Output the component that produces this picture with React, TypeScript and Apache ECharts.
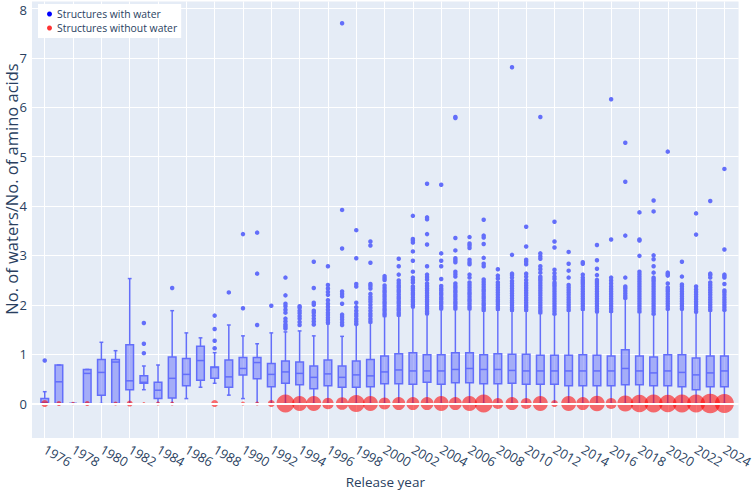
import React, { useEffect, useRef } from 'react';
import * as echarts from 'echarts';

const years = [1976, 1977, 1978, 1979, 1980, 1981, 1982, 1983, 1984, 1985, 1986, 1987, 1988, 1989, 1990, 1991, 1992, 1993, 1994, 1995, 1996, 1997, 1998, 1999, 2000, 2001, 2002, 2003, 2004, 2005, 2006, 2007, 2008, 2009, 2010, 2011, 2012, 2013, 2014, 2015, 2016, 2017, 2018, 2019, 2020, 2021, 2022, 2023, 2024];

const boxMin = [0, 0, 0, 0, 0, 0, 0, 0.28, 0, 0, 0.1, 0.33, 0.41, 0.17, 0.1, 0, 0, 0, 0, 0, 0, 0, 0, 0, 0, 0, 0, 0, 0, 0, 0, 0, 0, 0, 0, 0, 0, 0, 0, 0, 0, 0, 0, 0, 0, 0, 0, 0, 0];
const boxQ1 = [0, 0, 0, 0, 0.17, 0, 0.28, 0.41, 0.1, 0.11, 0.36, 0.47, 0.51, 0.33, 0.58, 0.5, 0.34, 0.41, 0.38, 0.3, 0.36, 0.33, 0.33, 0.34, 0.4, 0.4, 0.39, 0.43, 0.39, 0.42, 0.42, 0.4, 0.4, 0.41, 0.39, 0.39, 0.39, 0.36, 0.36, 0.36, 0.36, 0.38, 0.38, 0.36, 0.36, 0.34, 0.28, 0.34, 0.34];
const boxMedian = [0.02, 0.44, 0, 0.61, 0.63, 0.84, 0.46, 0.43, 0.27, 0.51, 0.59, 0.87, 0.73, 0.54, 0.71, 0.83, 0.59, 0.64, 0.61, 0.53, 0.6, 0.53, 0.58, 0.56, 0.64, 0.68, 0.66, 0.66, 0.66, 0.69, 0.71, 0.69, 0.69, 0.67, 0.66, 0.66, 0.66, 0.66, 0.66, 0.66, 0.66, 0.71, 0.66, 0.62, 0.66, 0.63, 0.58, 0.62, 0.66];
const boxQ3 = [0.1, 0.78, 0, 0.69, 0.89, 0.89, 1.19, 0.56, 0.43, 0.94, 0.91, 1.16, 0.74, 0.88, 0.93, 0.93, 0.81, 0.86, 0.84, 0.76, 0.88, 0.76, 0.86, 0.89, 0.96, 1.01, 1.03, 0.99, 0.99, 1.03, 1.03, 0.99, 1.01, 1.0, 1.0, 0.98, 0.98, 0.98, 0.99, 0.98, 0.96, 1.09, 0.96, 0.94, 0.99, 0.99, 0.92, 0.96, 0.96];
const boxMax = [0.24, 0.78, 0, 0.69, 1.24, 1.07, 2.53, 0.76, 0.78, 1.88, 1.43, 1.33, 1.03, 1.59, 1.37, 1.21, 1.43, 1.45, 1.47, 1.37, 1.61, 1.36, 1.6, 1.63, 1.76, 1.77, 1.94, 1.8, 1.9, 1.9, 1.9, 1.87, 1.89, 1.87, 1.87, 1.82, 1.8, 1.87, 1.89, 1.84, 1.85, 2.12, 1.84, 1.8, 1.9, 1.9, 1.84, 1.87, 1.88];

const outliers: number[][] = [
  [0.87],
  [], [], [], [], [], [],
  [1.02, 1.21, 1.63],
  [],
  [2.34],
  [], [],
  [1.12, 1.27, 1.51, 1.78],
  [2.25],
  [1.93, 3.43],
  [1.59, 2.63, 3.46],
  [1.98],
  [1.52, 1.56, 1.6, 1.66, 1.72, 1.84, 1.9, 1.97, 2.02, 2.19, 2.55],
  [1.59, 1.65, 1.72, 1.77, 1.83, 1.88, 1.94, 1.97],
  [1.6, 1.66, 1.72, 1.78, 1.84, 1.88, 2.0, 2.04, 2.34, 2.87],
  [1.64, 1.69, 1.74, 1.79, 1.84, 1.9, 1.96, 2.02, 2.09, 2.2, 2.26, 2.33, 2.4, 2.78],
  [1.59, 1.64, 1.7, 1.75, 1.8, 2.02, 2.17, 2.22, 2.27, 3.14, 3.92, 7.7],
  [1.61, 1.66, 1.71, 1.77, 1.82, 1.88, 1.95, 2.04, 2.37, 2.42, 2.94, 3.51],
  [1.66, 1.71, 1.77, 1.82, 1.88, 1.94, 2.0, 2.06, 2.11, 2.16, 2.22, 2.33, 2.38, 2.42, 2.85, 3.2, 3.28],
  [1.79, 1.83, 1.88, 1.92, 1.97, 2.02, 2.06, 2.11, 2.16, 2.2, 2.25, 2.29, 2.34, 2.39, 2.5, 2.54, 2.58],
  [1.8, 1.84, 1.89, 1.93, 1.98, 2.03, 2.07, 2.12, 2.16, 2.21, 2.26, 2.3, 2.35, 2.39, 2.44, 2.49, 2.61, 2.78, 2.93],
  [1.97, 2.01, 2.06, 2.1, 2.15, 2.2, 2.24, 2.29, 2.33, 2.37, 2.45, 2.5, 2.55, 2.67, 2.89, 3.08, 3.26, 3.3, 3.33, 3.8],
  [1.83, 1.87, 1.92, 1.96, 2.01, 2.06, 2.1, 2.15, 2.19, 2.24, 2.29, 2.33, 2.38, 2.43, 2.51, 2.56, 2.61, 2.78, 3.22, 3.43, 3.73, 3.77, 4.45],
  [1.93, 1.97, 2.02, 2.06, 2.11, 2.15, 2.2, 2.24, 2.29, 2.33, 2.38, 2.52, 2.78, 2.89, 3.04, 4.43],
  [1.93, 1.97, 2.02, 2.06, 2.11, 2.16, 2.2, 2.25, 2.29, 2.34, 2.38, 2.43, 2.57, 2.62, 2.67, 2.86, 2.9, 2.94, 3.1, 3.35, 5.78, 5.8],
  [1.93, 1.97, 2.02, 2.07, 2.11, 2.16, 2.21, 2.25, 2.3, 2.35, 2.4, 2.45, 2.55, 2.61, 2.82, 2.86, 2.91, 3.15, 3.2, 3.24, 3.37],
  [1.9, 1.94, 1.99, 2.03, 2.08, 2.13, 2.17, 2.22, 2.27, 2.31, 2.36, 2.41, 2.46, 2.51, 2.78, 2.83, 2.95, 3.23, 3.36, 3.4, 3.72],
  [1.92, 1.96, 2.01, 2.06, 2.1, 2.15, 2.2, 2.25, 2.3, 2.35, 2.4, 2.45, 2.53, 2.59, 2.72],
  [1.9, 1.94, 1.99, 2.04, 2.08, 2.13, 2.18, 2.23, 2.28, 2.33, 2.38, 2.43, 2.48, 2.55, 2.6, 2.63, 3.01, 6.81],
  [1.9, 1.95, 1.99, 2.04, 2.09, 2.14, 2.19, 2.24, 2.29, 2.34, 2.39, 2.44, 2.5, 2.57, 2.63, 2.82, 2.87, 2.91, 3.18, 3.58],
  [1.85, 1.89, 1.94, 1.99, 2.04, 2.09, 2.14, 2.19, 2.24, 2.29, 2.34, 2.39, 2.44, 2.49, 2.53, 2.57, 2.65, 2.72, 2.78, 2.93, 2.98, 3.04, 5.8],
  [1.82, 1.87, 1.92, 1.97, 2.02, 2.07, 2.12, 2.17, 2.22, 2.27, 2.32, 2.37, 2.41, 2.45, 2.52, 2.57, 2.64, 2.71, 3.16, 3.28, 3.68],
  [1.9, 1.95, 2.0, 2.05, 2.1, 2.15, 2.2, 2.25, 2.3, 2.35, 2.4, 2.55, 2.69, 2.83, 3.07],
  [1.92, 1.97, 2.02, 2.07, 2.12, 2.17, 2.22, 2.27, 2.32, 2.37, 2.42, 2.46, 2.5, 2.55, 2.61, 2.83, 2.86],
  [1.87, 1.92, 1.97, 2.02, 2.07, 2.12, 2.17, 2.22, 2.27, 2.32, 2.37, 2.42, 2.46, 2.5, 2.6, 2.73, 2.9, 3.21],
  [1.87, 1.92, 1.97, 2.02, 2.07, 2.12, 2.17, 2.22, 2.27, 2.32, 2.37, 2.43, 2.49, 2.55, 3.32, 6.16],
  [2.14, 2.18, 2.23, 2.28, 2.33, 2.37, 2.55, 3.4, 4.49, 5.28],
  [1.87, 1.92, 1.97, 2.02, 2.07, 2.12, 2.17, 2.22, 2.27, 2.32, 2.37, 2.42, 2.47, 2.52, 2.57, 2.62, 2.67, 2.99, 3.3, 3.32, 3.87],
  [1.82, 1.87, 1.92, 1.97, 2.02, 2.07, 2.12, 2.17, 2.22, 2.27, 2.32, 2.37, 2.42, 2.47, 2.51, 2.55, 2.65, 2.78, 2.92, 3.0, 3.89, 4.11],
  [1.92, 1.97, 2.02, 2.07, 2.12, 2.17, 2.22, 2.27, 2.31, 2.35, 2.43, 2.59, 2.62, 2.65, 5.1],
  [1.92, 1.97, 2.02, 2.07, 2.12, 2.17, 2.22, 2.27, 2.32, 2.37, 2.41, 2.57, 2.87],
  [1.86, 1.91, 1.96, 2.01, 2.06, 2.11, 2.16, 2.21, 2.26, 2.31, 2.37, 3.42, 3.85],
  [1.9, 1.95, 2.0, 2.05, 2.1, 2.15, 2.2, 2.25, 2.3, 2.35, 2.4, 2.45, 2.55, 2.6, 2.63, 4.1],
  [1.9, 1.95, 2.0, 2.05, 2.1, 2.15, 2.2, 2.25, 2.29, 2.42, 2.55, 2.58, 2.61, 3.12, 4.75],
];

const noWaterCount: (number | null)[] = [70, 50, 35, 50, null, 40, 60, 30, 40, 40, null, null, 70, null, 40, 40, 70, 180, 150, 150, 115, 125, 170, 150, 120, 130, 130, 130, 150, 130, 150, 180, 110, 130, 110, 150, 70, 150, 130, 155, 110, 160, 175, 180, 175, 180, 180, 195, 190];

const xTickValues = [1976, 1978, 1980, 1982, 1984, 1986, 1988, 1990, 1992, 1994, 1996, 1998, 2000, 2002, 2004, 2006, 2008, 2010, 2012, 2014, 2016, 2018, 2020, 2022, 2024];
const yTickValues = [0, 1, 2, 3, 4, 5, 6, 7, 8];

const FONT = "'Open Sans', 'Noto Sans', sans-serif";
const TXT = '#2a3f5f';
const BOX = '#636EFA';

export default function App() {
  const ref = useRef<HTMLDivElement>(null);
  useEffect(() => {
    document.body.style.margin = '0';
    const chart = echarts.init(ref.current!, null, { renderer: 'svg' });

    const boxData = years.map((y, i) => [y, boxMin[i], boxQ1[i], boxMedian[i], boxQ3[i], boxMax[i]]);
    const outlierData: number[][] = [];
    years.forEach((y, i) => outliers[i].forEach((v) => outlierData.push([y, v])));
    const noWaterData: number[][] = [];
    years.forEach((y, i) => {
      const c = noWaterCount[i];
      if (c != null) noWaterData.push([y, 0, c]);
    });

    const option: any = {
      animation: false,
      textStyle: { fontFamily: FONT },
      grid: {
        left: 32, right: 14, top: 0, bottom: 50,
        show: true, backgroundColor: '#E5ECF6', borderWidth: 0,
      },
      graphic: [
        {
          type: 'text', x: 11, y: 189, rotation: Math.PI / 2,
          style: {
            text: 'No. of waters/No. of amino acids',
            fontFamily: FONT, fontSize: 16.5, fill: TXT,
            align: 'center', verticalAlign: 'middle',
          },
        },
      ],
      legend: {
        orient: 'vertical', left: 38, top: 4,
        backgroundColor: '#ffffff',
        padding: [4, 4, 4, 9],
        itemGap: 2,
        itemWidth: 5, itemHeight: 5, icon: 'circle',
        textStyle: { fontFamily: FONT, fontSize: 10.4, color: TXT, lineHeight: 12 },
        data: [
          { name: 'Structures with water', itemStyle: { color: 'blue' } },
          { name: 'Structures without water', itemStyle: { color: 'red' } },
        ],
      },
      xAxis: {
        type: 'value', min: 1975.1, max: 2025,
        name: 'Release year', nameLocation: 'middle', nameGap: 34,
        nameTextStyle: { fontFamily: FONT, fontSize: 13.5, color: TXT },
        axisLine: { show: false },
        axisTick: { show: false, customValues: xTickValues },
        axisLabel: {
          customValues: xTickValues, rotate: -30, margin: 10,
          fontFamily: FONT, fontSize: 13, color: TXT,
          formatter: (v: number) => String(v),
        },
        splitLine: { show: true, lineStyle: { color: '#ffffff', width: 1 } },
      },
      yAxis: {
        type: 'value', min: -0.7, max: 8.14,
        axisLine: { show: false },
        axisTick: { show: false, customValues: yTickValues },
        axisLabel: {
          customValues: yTickValues, margin: 5, fontFamily: FONT, fontSize: 13, color: TXT, lineHeight: 10,
          formatter: (v: number) => (v === 8 ? '{top|8}' : String(v)),
          rich: { top: { fontFamily: FONT, fontSize: 13, color: TXT, lineHeight: 10, padding: [4, 0, 0, 0] } },
        },
        splitLine: { show: true, lineStyle: { color: '#ffffff', width: 1 } },
      },
      series: [
        {
          type: 'line', data: [], z: 1, silent: true,
          markLine: {
            silent: true, symbol: 'none', label: { show: false },
            lineStyle: { color: '#ffffff', width: 2, type: 'solid' },
            data: [{ yAxis: 0 }],
          },
        },
        {
          type: 'custom', z: 2, silent: true,
          encode: { x: 0, y: [1, 2, 3, 4, 5] },
          data: boxData,
          renderItem: (params: any, api: any) => {
            const x = api.value(0);
            const mn = api.value(1), q1 = api.value(2), md = api.value(3), q3 = api.value(4), mx = api.value(5);
            const hw = 0.27, cw = 0.135;
            const tl = api.coord([x - hw, q3]);
            const br = api.coord([x + hw, q1]);
            const c = (v: number) => api.coord([x, v]);
            const ln = { stroke: BOX, lineWidth: 1.5 };
            const cap = (v: number) => {
              const a = api.coord([x - cw, v]);
              const b = api.coord([x + cw, v]);
              return { type: 'line', shape: { x1: a[0], y1: a[1], x2: b[0], y2: b[1] }, style: ln };
            };
            const mdL = api.coord([x - hw, md]);
            const mdR = api.coord([x + hw, md]);
            return {
              type: 'group',
              children: [
                { type: 'line', shape: { x1: c(mx)[0], y1: c(mx)[1], x2: c(q3)[0], y2: c(q3)[1] }, style: ln },
                { type: 'line', shape: { x1: c(q1)[0], y1: c(q1)[1], x2: c(mn)[0], y2: c(mn)[1] }, style: ln },
                cap(mx),
                cap(mn),
                {
                  type: 'rect',
                  shape: { x: tl[0], y: tl[1], width: br[0] - tl[0], height: br[1] - tl[1] },
                  style: { fill: 'rgba(99,110,250,0.5)', stroke: BOX, lineWidth: 1.5 },
                },
                { type: 'line', shape: { x1: mdL[0], y1: mdL[1], x2: mdR[0], y2: mdR[1] }, style: ln },
              ],
            };
          },
        },
        {
          name: 'Structures with water',
          type: 'scatter', z: 3, silent: true,
          symbol: 'circle', symbolSize: 4.5,
          itemStyle: { color: BOX, opacity: 1 },
          data: outlierData,
        },
        {
          name: 'Structures without water',
          type: 'scatter', z: 4, silent: true,
          symbol: 'circle',
          symbolSize: (v: number[]) => v[2] / 10,
          itemStyle: { color: 'rgba(255,0,0,0.7)' },
          data: noWaterData,
        },
      ],
    };
    chart.setOption(option);
    return () => chart.dispose();
  }, []);
  return <div ref={ref} style={{ width: 756, height: 494 }} />;
}
